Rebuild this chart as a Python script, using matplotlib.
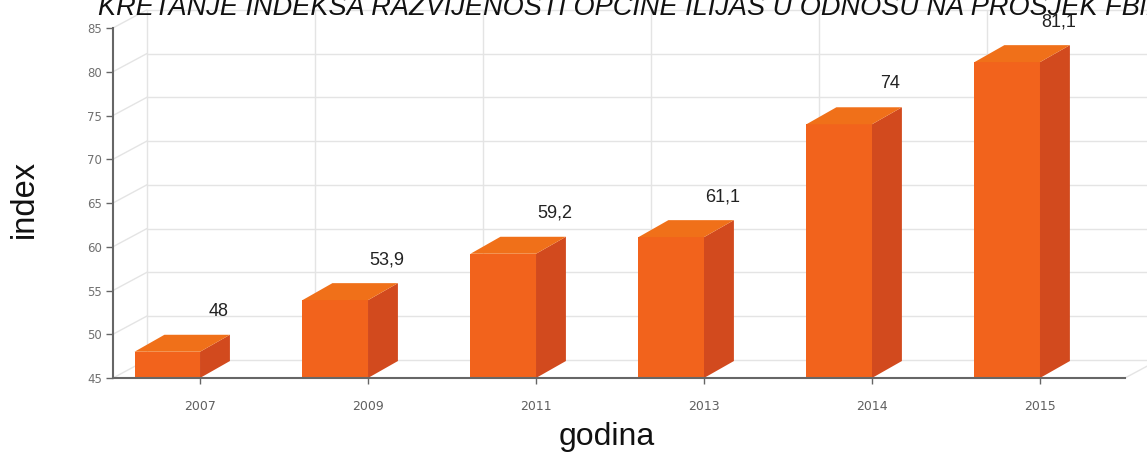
import matplotlib
matplotlib.use("Agg")
import matplotlib.pyplot as plt
from matplotlib.patches import Polygon

godine = ['2007', '2009', '2011', '2013', '2014', '2015']
indeks = [48, 53.9, 59.2, 61.1, 74, 81.1]
oznake = ['48', '53,9', '59,2', '61,1', '74', '81,1']
y_ticks = [45, 50, 55, 60, 65, 70, 75, 80, 85]

W, H = 1147, 453
fig = plt.figure(figsize=(W / 100, H / 100), dpi=100)
# front plane of the pseudo-3D chart, in pixels
left, right, top, bottom = 113, 1125, 28, 378
ax = fig.add_axes([left / W, 1 - bottom / H, (right - left) / W, (bottom - top) / H])

xmin, xmax = -0.518, 5.506
ymin, ymax = 45, 85
ax.set_xlim(xmin, xmax)
ax.set_ylim(ymin, ymax)

# depth offsets (band units / value units)
bdx, bdy = 0.2, 2.06      # back wall
dx, dy = 0.178, 1.94      # bar depth
bw = 0.39                 # front face width

grid_c = '#e4e4e4'
# back wall grid
for t in y_ticks:
    ax.plot([xmin + bdx, xmax + bdx], [t + bdy, t + bdy], color=grid_c, lw=1, clip_on=False, zorder=0)
    ax.plot([xmin, xmin + bdx], [t, t + bdy], color=grid_c, lw=1, clip_on=False, zorder=0)
for k in range(7):
    xv = xmin + bdx + k
    ax.plot([xv, xv], [ymin + bdy, ymax + bdy], color=grid_c, lw=1, clip_on=False, zorder=0)
ax.plot([xmax, xmax + bdx], [ymin, ymin + bdy], color=grid_c, lw=1, clip_on=False, zorder=0)

front_c, side_c, top_c = '#f2631c', '#d24a1e', '#f07019'
xs = list(range(len(godine)))
ax.bar([x - bw / 2 for x in xs], [v - ymin for v in indeks], bottom=ymin, width=bw,
       color=front_c, zorder=3, clip_on=False)
for x, v, lab in zip(xs, indeks, oznake):
    side = Polygon([(x, ymin), (x + dx, ymin + dy), (x + dx, v + dy), (x, v)],
                   closed=True, facecolor=side_c, edgecolor='none', zorder=3, clip_on=False)
    topf = Polygon([(x - bw, v), (x, v), (x + dx, v + dy), (x - bw + dx, v + dy)],
                   closed=True, facecolor=top_c, edgecolor='none', zorder=3, clip_on=False)
    ax.add_patch(side)
    ax.add_patch(topf)
    ax.text(x + 0.11, v + dy + 2.7, lab, ha='center', va='center', fontsize=13,
            family='Liberation Sans', color='#222222', clip_on=False)

for s in ['top', 'right']:
    ax.spines[s].set_visible(False)
for s in ['left', 'bottom']:
    ax.spines[s].set_color('#666666')
    ax.spines[s].set_linewidth(1.5)
    ax.spines[s].set_zorder(4)

ax.set_yticks(y_ticks)
ax.set_xticks(xs)
ax.set_xticklabels(godine)
ax.tick_params(axis='y', length=5, width=1, color='#666666', labelsize=8.5,
               labelcolor='#707070', pad=3)
ax.tick_params(axis='x', length=4, width=1, color='#666666', labelsize=9,
               labelcolor='#606060', pad=12)
ax.set_facecolor('none')

fig.text(98 / W, 1 - 15 / H, 'KRETANJE INDEKSA RAZVIJENOSTI OPĆINE ILIJAŠ U ODNOSU NA PROSJEK FBiH',
         ha='left', va='baseline', fontsize=19.5, style='italic', family='Liberation Sans', color='#111111')
fig.text(24 / W, 1 - 199 / H, 'index', rotation=90, ha='center', va='center', fontsize=23.5,
         family='Liberation Sans', color='#111111')
fig.text(607 / W, 1 - 437 / H, 'godina', ha='center', va='center', fontsize=23,
         family='Liberation Sans', color='#111111')

fig.savefig('out.png', dpi=100)
